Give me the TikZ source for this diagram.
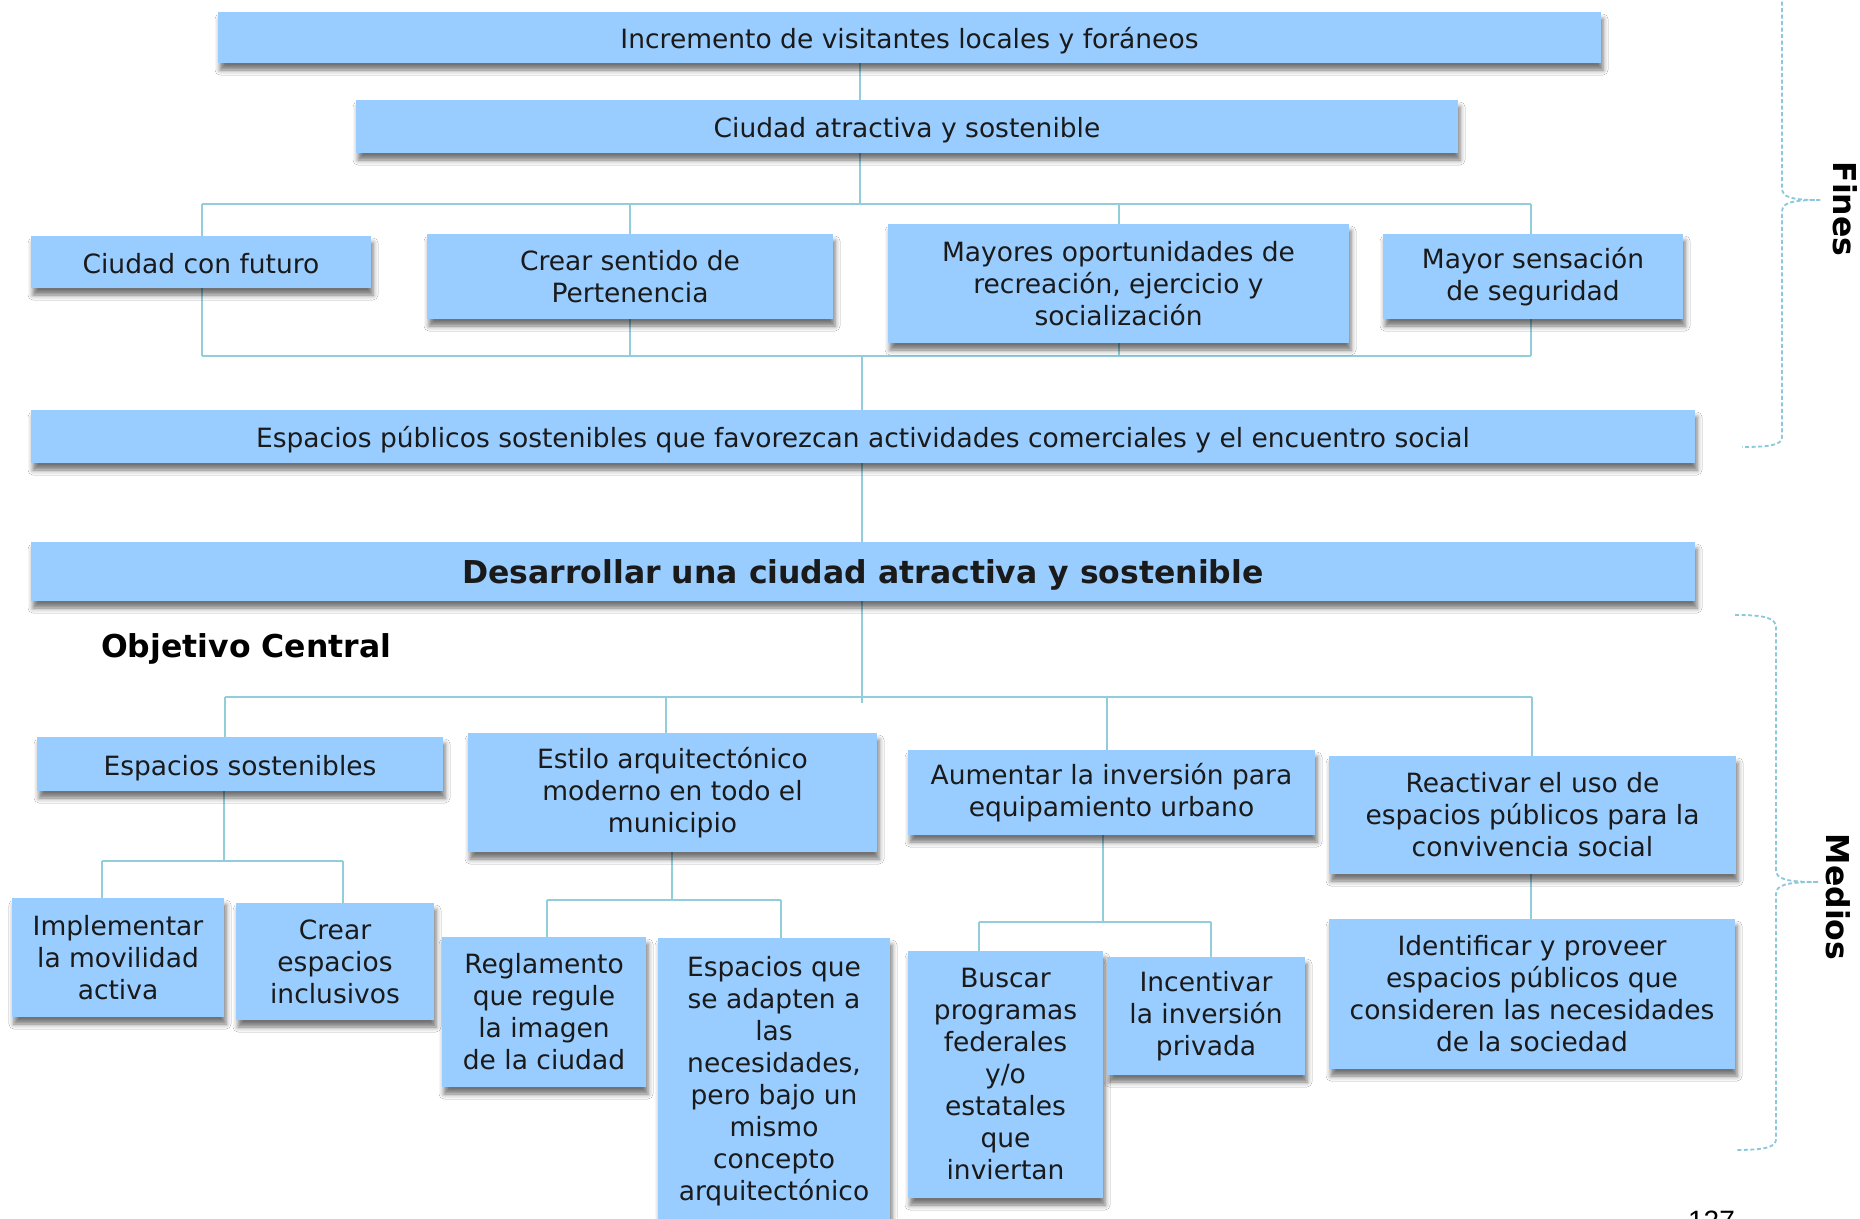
\documentclass[tikz,border=0pt]{standalone}
\usepackage{fontspec}
\setmainfont{DejaVu Sans}
\newfontfamily\pagefont{Liberation Sans}
\usetikzlibrary{shadows.blur}
\definecolor{boxblue}{HTML}{99CCFF}
\definecolor{linkcol}{HTML}{92CDDC}
\definecolor{bracecol}{HTML}{8CC8DC}
\definecolor{txt}{HTML}{1A1A1A}
\pgfdeclarelayer{bg}
\pgfsetlayers{bg,main}
\tikzset{
  boxnode/.style={fill=boxblue, draw=none, inner sep=0pt, align=center,
    text=txt, font=\fontsize{26.5}{32}\selectfont,
    execute at begin node={\rule{0pt}{24.5pt}},
    blur shadow={shadow xshift=2pt, shadow yshift=-7pt, shadow blur radius=5pt, shadow opacity=55}},
  oneline/.style={text height=27pt, text depth=5pt},
  titlenode/.style={boxnode, font=\fontsize{31.5}{38}\selectfont\bfseries, text height=30pt, text depth=6pt},
  link/.style={draw=linkcol, line width=2pt},
  bracepath/.style={draw=bracecol, line width=1.8pt, dash pattern=on 4pt off 2.5pt},
  sidelabel/.style={font=\fontsize{31.5}{38}\selectfont\bfseries, text=black, rotate=-90, inner sep=0pt}
}
\begin{document}
\begin{tikzpicture}[x=1pt,y=-1pt]
\useasboundingbox (0,0) rectangle (1860,1218);

% ---- Fines ----
\node[boxnode, oneline, minimum width=1383pt, minimum height=51pt] (b1) at (909.5,37.5) {Incremento de visitantes locales y foráneos};
\node[boxnode, oneline, minimum width=1102pt, minimum height=53pt] (b2) at (907,126.5) {Ciudad atractiva y sostenible};
\node[boxnode, oneline, minimum width=340pt, minimum height=52pt] (f1) at (201,262) {Ciudad con futuro};
\node[boxnode, minimum width=406pt, minimum height=85pt] (f2) at (630,276.5) {Crear sentido de\\Pertenencia};
\node[boxnode, minimum width=461pt, minimum height=119pt] (f3) at (1118.5,283.5) {Mayores oportunidades de\\recreación, ejercicio y\\socialización};
\node[boxnode, minimum width=300pt, minimum height=85pt] (f4) at (1533,276.5) {Mayor sensación\\de seguridad};
\node[boxnode, oneline, minimum width=1664pt, minimum height=53pt] (b5) at (863,436.5) {Espacios públicos sostenibles que favorezcan actividades comerciales y el encuentro social};
\node[titlenode, minimum width=1664pt, minimum height=59pt] (b6) at (863,571.5) {Desarrollar una ciudad atractiva y sostenible};
\node[font=\fontsize{31.5}{38}\selectfont\bfseries, text=black, anchor=west, inner sep=0pt] (obj) at (101,649) {Objetivo Central};

% ---- Medios ----
\node[boxnode, oneline, minimum width=406pt, minimum height=54pt] (m1) at (240,764) {Espacios sostenibles};
\node[boxnode, minimum width=409pt, minimum height=119pt] (m2) at (672.5,792.5) {Estilo arquitectónico\\moderno en todo el\\municipio};
\node[boxnode, minimum width=407pt, minimum height=85pt] (m3) at (1111.5,792.5) {Aumentar la inversión para\\equipamiento urbano};
\node[boxnode, minimum width=407pt, minimum height=118pt] (m4) at (1532.5,815) {Reactivar el uso de\\espacios públicos para la\\convivencia social};
\node[boxnode, minimum width=212pt, minimum height=119pt] (s1) at (118,957.5) {Implementar\\la movilidad\\activa};
\node[boxnode, minimum width=198pt, minimum height=117pt] (s2) at (335,961.5) {Crear\\espacios\\inclusivos};
\node[boxnode, minimum width=204pt, minimum height=150pt] (s3) at (544,1012) {Reglamento\\que regule\\la imagen\\de la ciudad};
\node[boxnode, minimum width=232pt, minimum height=287pt] (s4) at (774,1081.5) {Espacios que\\se adapten a\\las\\necesidades,\\pero bajo un\\mismo\\concepto\\arquitectónico};
\node[boxnode, minimum width=195pt, minimum height=247pt] (s5) at (1005.5,1074.5) {Buscar\\programas\\federales\\y/o\\estatales\\que\\inviertan};
\node[boxnode, minimum width=198pt, minimum height=118pt] (s6) at (1206,1016) {Incentivar\\la inversión\\privada};
\node[boxnode, minimum width=406pt, minimum height=150pt] (s7) at (1532,994) {Identificar y proveer\\espacios públicos que\\consideren las necesidades\\de la sociedad};

% ---- junction coordinates ----
\coordinate (jt) at (860,204);
\coordinate (jtl) at (202,204);
\coordinate (jtr) at (1531,204);
\coordinate (jb) at (862,356);
\coordinate (jbl) at (202,356);
\coordinate (jbr) at (1531,356);
\coordinate (jf2) at (630,204);
\coordinate (jf3) at (1119,204);
\coordinate (jm) at (862,697);
\coordinate (jml) at (225,697);
\coordinate (jmr) at (1532,697);
\coordinate (jm2) at (666,697);
\coordinate (jm3) at (1107,697);
\coordinate (jmend) at (862,703);
\coordinate (ja) at (224,861);
\coordinate (jal) at (102,861);
\coordinate (jar) at (343,861);
\coordinate (jc) at (672,900);
\coordinate (jcl) at (547,900);
\coordinate (jcr) at (781,900);
\coordinate (jd) at (1103,922);
\coordinate (jdl) at (979,922);
\coordinate (jdr) at (1211,922);

\begin{pgfonlayer}{bg}
\fill[white] (0,0) rectangle (1860,1218);
% top connectors
\draw[link] (b1.south -| jt) -- (b2.north -| jt);
\draw[link] (b2.south -| jt) -- (jt);
\draw[link] (jtl) -- (jtr);
\draw[link] (jtl) -- (jbl);
\draw[link] (jf2) -- (jf2 |- jb);
\draw[link] (jf3) -- (jf3 |- jb);
\draw[link] (jtr) -- (jbr);
\draw[link] (jbl) -- (jbr);
\draw[link] (jb) -- (b5.north -| jb);
\draw[link] (b5.south -| jb) -- (b6.north -| jb);
% medios connectors
\draw[link] (b6.south -| jm) -- (jmend);
\draw[link] (jml) -- (jmr);
\draw[link] (jml) -- (m1.north -| jml);
\draw[link] (jm2) -- (m2.north -| jm2);
\draw[link] (jm3) -- (m3.north -| jm3);
\draw[link] (jmr) -- (m4.north -| jmr);
\draw[link] (m1.south -| ja) -- (ja);
\draw[link] (jal) -- (jar);
\draw[link] (jal) -- (s1.north -| jal);
\draw[link] (jar) -- (s2.north -| jar);
\draw[link] (m2.south -| jc) -- (jc);
\draw[link] (jcl) -- (jcr);
\draw[link] (jcl) -- (s3.north -| jcl);
\draw[link] (jcr) -- (s4.north -| jcr);
\draw[link] (m3.south -| jd) -- (jd);
\draw[link] (jdl) -- (jdr);
\draw[link] (jdl) -- (s5.north -| jdl);
\draw[link] (jdr) -- (s6.north -| jdr);
\draw[link] (m4.south -| jbr) -- (s7.north -| jbr);
\end{pgfonlayer}

% ---- braces ----
\draw[bracepath] (1782,-5) -- (1782,188) .. controls (1782,197) and (1790,200) .. (1820,200);
\draw[bracepath] (1820,200) .. controls (1790,200) and (1782,203) .. (1782,212) -- (1782,437) .. controls (1782,445) and (1770,447) .. (1742,447);
\draw[bracepath] (1735,615) .. controls (1766,615) and (1776,618) .. (1776,628) -- (1776,870) .. controls (1776,879) and (1786,882) .. (1818,882);
\draw[bracepath] (1818,882) .. controls (1786,882) and (1776,885) .. (1776,894) -- (1776,1139) .. controls (1776,1147) and (1766,1150) .. (1735,1150);
\node[sidelabel] (fines) at (1845,209) {Fines};
\node[sidelabel] (medios) at (1838,897) {Medios};

% page number (cut off at the bottom edge)
\node[font=\pagefont\fontsize{28}{30}\selectfont, text=black, anchor=base, inner sep=0pt] (pnum) at (1711.5,1230) {127};
\end{tikzpicture}
\end{document}
